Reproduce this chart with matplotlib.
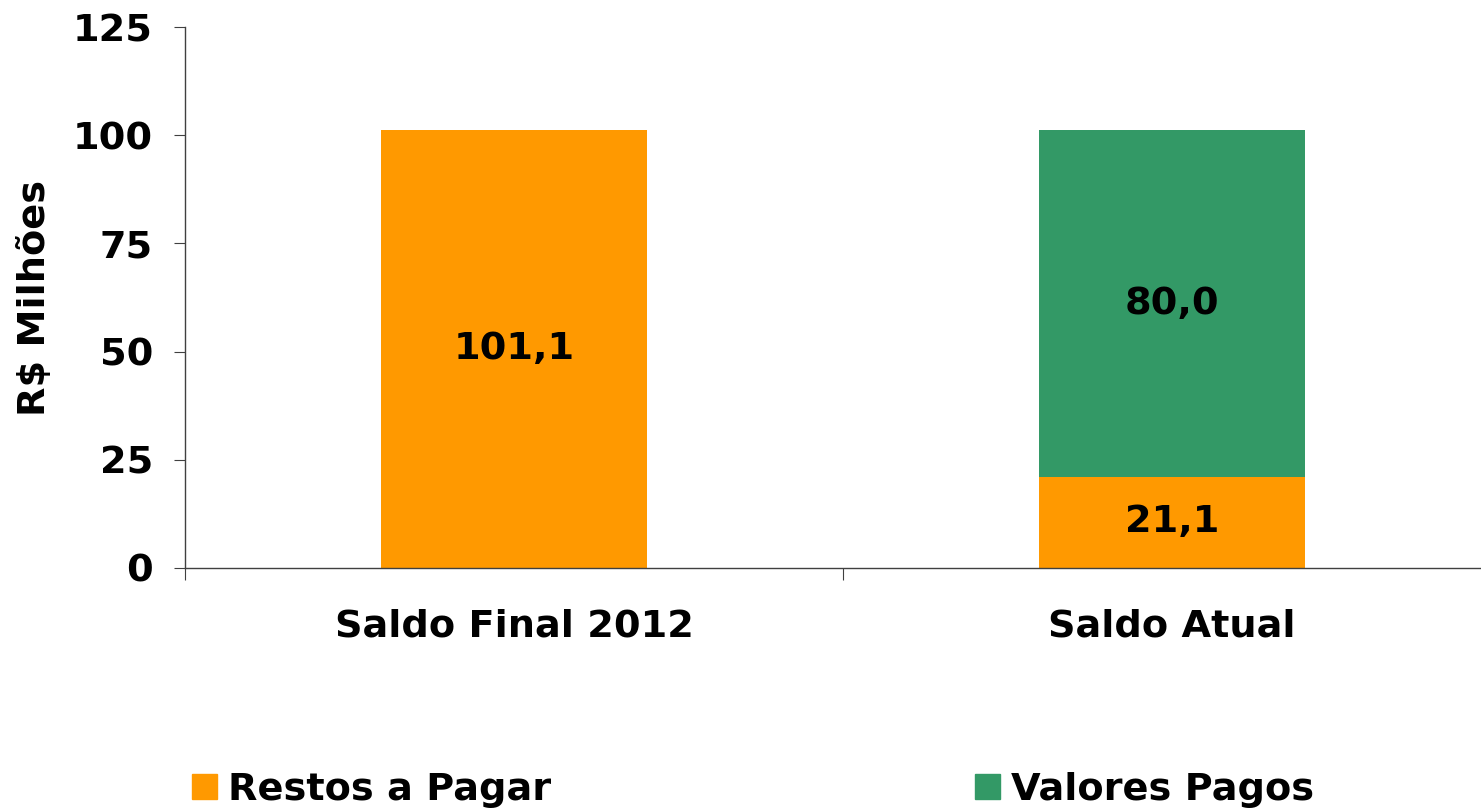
import numpy as np
import matplotlib.pyplot as plt
from matplotlib.patches import Patch

plt.rcParams['font.family'] = ['DejaVu Sans']
plt.rcParams['font.weight'] = 'bold'

categories = ['Saldo Final 2012', 'Saldo Atual']
restos = [101.1, 21.1]
pagos = [0.0, 80.0]
yticks = [0, 25, 50, 75, 100, 125]

c_restos = '#FF9900'
c_pagos = '#339966'
fs = 27.5

fig = plt.figure(figsize=(14.81, 8.10), dpi=100)
# axes runs a bit past the right edge of the figure, as in the original
ax_w = 1316
ax = fig.add_axes([185 / 1481, 1 - 568 / 810, ax_w / 1481, (568 - 27) / 810])

x = np.arange(len(categories)) + 0.5
w = 0.403
ax.bar(x, restos, w, color=c_restos, label='Restos a Pagar')
ax.bar(x, pagos, w, bottom=restos, color=c_pagos, label='Valores Pagos')

for xi, r, p in zip(x, restos, pagos):
    ax.text(xi, r / 2, f'{r:.1f}'.replace('.', ','), ha='center', va='center',
            fontsize=fs, fontweight='bold')
    if p > 0:
        ax.text(xi, r + p / 2, f'{p:.1f}'.replace('.', ','), ha='center', va='center',
                fontsize=fs, fontweight='bold')

ax.set_xlim(0, 2)
ax.set_ylim(0, 125)
ax.set_yticks(yticks)
ax.set_yticklabels([str(v) for v in yticks], fontsize=fs, fontweight='bold')
ax.set_xticks([0, 1, 2], minor=False)
ax.set_xticklabels([])
ax.set_xticks(x, minor=True)
ax.set_xticklabels(categories, minor=True, fontsize=fs, fontweight='bold')
ax.tick_params(axis='x', which='minor', length=0, pad=29)
ax.tick_params(axis='x', which='major', length=8.6, direction='out', color='#404040')
ax.tick_params(axis='y', length=8, direction='out', color='#404040', pad=15)
ax.set_ylabel('R$ Milhões', fontsize=fs, fontweight='bold', va='center')
ax.yaxis.set_label_coords((35 - 185) / ax_w, 0.5)

for s in ['top', 'right']:
    ax.spines[s].set_visible(False)
for s in ['left', 'bottom']:
    ax.spines[s].set_color('#404040')
    ax.spines[s].set_linewidth(1.0)

handles = [Patch(color=c_restos, label='Restos a Pagar'),
           Patch(color=c_pagos, label='Valores Pagos')]
fig.legend(handles=handles, loc='center left', bbox_to_anchor=(192 / 1481, 1 - 790 / 810),
           ncol=2, frameon=False, prop={'size': fs, 'weight': 'bold'},
           borderpad=0, borderaxespad=0,
           handlelength=0.65, handleheight=0.65, handletextpad=0.29,
           columnspacing=11.1)

fig.savefig('out.png', dpi=100)
